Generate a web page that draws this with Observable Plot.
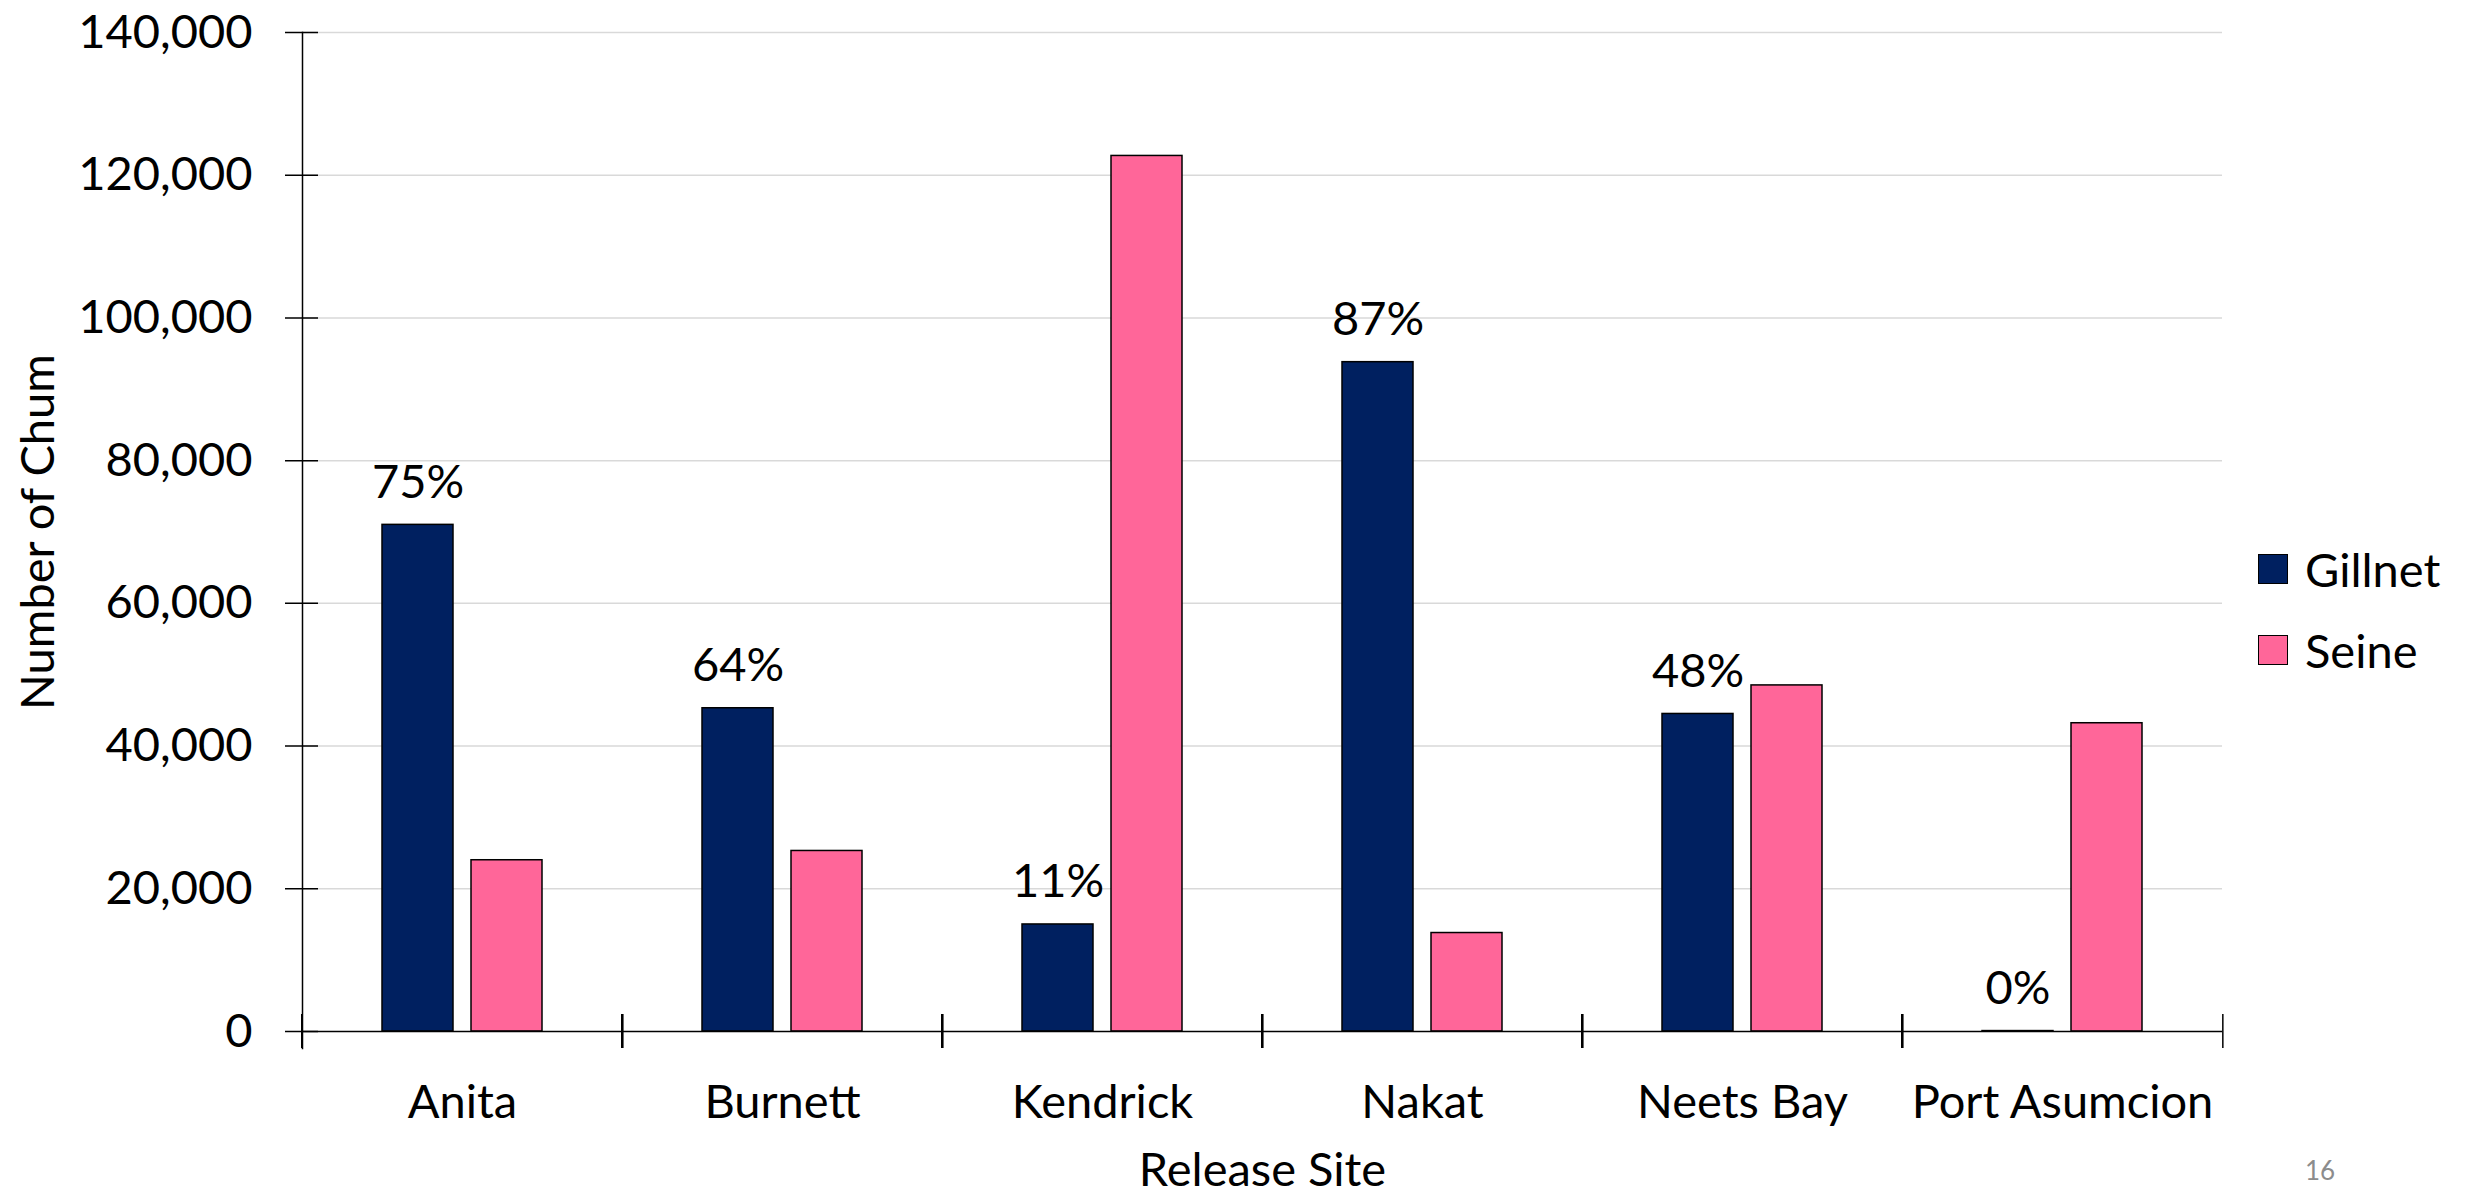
<!DOCTYPE html>
<html>
<head>
<meta charset="utf-8">
<script src="https://cdn.jsdelivr.net/npm/d3@7"></script>
<script src="https://cdn.jsdelivr.net/npm/@observablehq/plot@0.6"></script>
<style>
  html, body { margin: 0; padding: 0; background: #fff; }
  #wrap { position: relative; width: 2473px; height: 1194px; font-family: Lato, sans-serif; }
  #chart { position: absolute; left: 0; top: 0; }
  .legend-row { position: absolute; left: 2258px; display: flex; align-items: center; height: 60px; font-size: 47px; color: #000; }
  .sw { width: 30px; height: 30px; border: 1.5px solid #000; box-sizing: border-box; margin-right: 17px; }
  #page { position: absolute; left: 2305px; top: 1154px; font-size: 26px; color: #8c8c8c; }
</style>
</head>
<body>
<div id="wrap">
  <div id="chart"></div>
  <div id="legend"></div>
  <div id="page">16</div>
</div>
<script>
// ---- data ----
const sites = ["Anita", "Burnett", "Kendrick", "Nakat", "Neets Bay", "Port Asumcion"];
const gears = ["Gillnet", "Seine"];
const gillnet = [71000, 45300, 15000, 93800, 44500, 60];
const seine = [24000, 25300, 122700, 13800, 48500, 43200];
const pctLabels = ["75%", "64%", "11%", "87%", "48%", "0%"];
const yTicks = [0, 20000, 40000, 60000, 80000, 100000, 120000, 140000];
const colors = ["#002060", "#FF6699"];

// ---- layout ----
const W = 2473, H = 1194;
const mL = 300, mR = 249, mT = 32, mB = 163;
const step = (W - mL - mR) / sites.length;
const FS = 47;

const rows = sites.flatMap((s, i) => [
  {site: s, gear: gears[0], value: gillnet[i]},
  {site: s, gear: gears[1], value: seine[i]}
]);
const labelRows = sites.map((s, i) => ({site: s, gear: gears[0], value: gillnet[i], pct: pctLabels[i]}));

const chart = Plot.plot({
  width: W,
  height: H,
  marginLeft: mL,
  marginRight: mR,
  marginTop: mT,
  marginBottom: mB,
  style: {fontFamily: "Lato, sans-serif", fontSize: FS + "px", color: "#000", background: "transparent"},
  fx: {domain: sites, padding: 0, label: "Release Site"},
  x: {domain: gears, paddingInner: 0.2, paddingOuter: 0.881, axis: null},
  y: {domain: [0, 140000], label: "Number of Chum"},
  color: {domain: gears, range: colors},
  marks: [
    Plot.gridY(yTicks.slice(1), {stroke: "#d9d9d9", strokeOpacity: 1, strokeWidth: 1.5}),
    Plot.barY(rows, {fx: "site", x: "gear", y: "value", fill: "gear", stroke: "#000", strokeWidth: 1.5}),
    Plot.text(labelRows, {fx: "site", x: "gear", y: "value", text: "pct", lineAnchor: "bottom", dy: -27, fontSize: FS, fill: "#000"}),
    Plot.ruleY([0], {stroke: "#000", strokeWidth: 1.5}),
    Plot.frame({anchor: "left", facetAnchor: "left", stroke: "#000", strokeWidth: 1.5, insetBottom: -17}),
    // y tick labels + title
    Plot.axisY(yTicks, {anchor: "left", tickSize: 0, tickPadding: 50, tickFormat: d3.format(","), label: "Number of Chum", labelAnchor: "center", labelArrow: "none", labelOffset: 282, fontSize: FS}),
    // y tick marks crossing the axis
    Plot.axisY(yTicks, {anchor: "left", tickSize: 33, dx: 16, fill: "none", stroke: "#000", strokeWidth: 1.5, label: null}),
    // category labels + title
    Plot.axisFx({anchor: "bottom", tickSize: 0, tickPadding: 53, label: "Release Site", labelAnchor: "center", labelArrow: "none", labelOffset: 154, fontSize: FS}),
    // category boundary ticks
    Plot.axisFx(sites, {anchor: "bottom", tickSize: 34, dy: -17, dx: -step / 2, fill: "none", stroke: "#000", strokeWidth: 1.5, label: null}),
    Plot.axisFx([sites[sites.length - 1]], {anchor: "bottom", tickSize: 34, dy: -17, dx: step / 2, fill: "none", stroke: "#000", strokeWidth: 1.5, label: null})
  ]
});
document.getElementById("chart").appendChild(chart);

// ---- legend ----
const legend = document.getElementById("legend");
const legendTops = [539, 620];
gears.forEach((g, i) => {
  const row = document.createElement("div");
  row.className = "legend-row";
  row.style.top = legendTops[i] + "px";
  const sw = document.createElement("div");
  sw.className = "sw";
  sw.style.background = colors[i];
  const t = document.createElement("span");
  t.textContent = g;
  row.appendChild(sw);
  row.appendChild(t);
  legend.appendChild(row);
});
</script>
</body>
</html>
